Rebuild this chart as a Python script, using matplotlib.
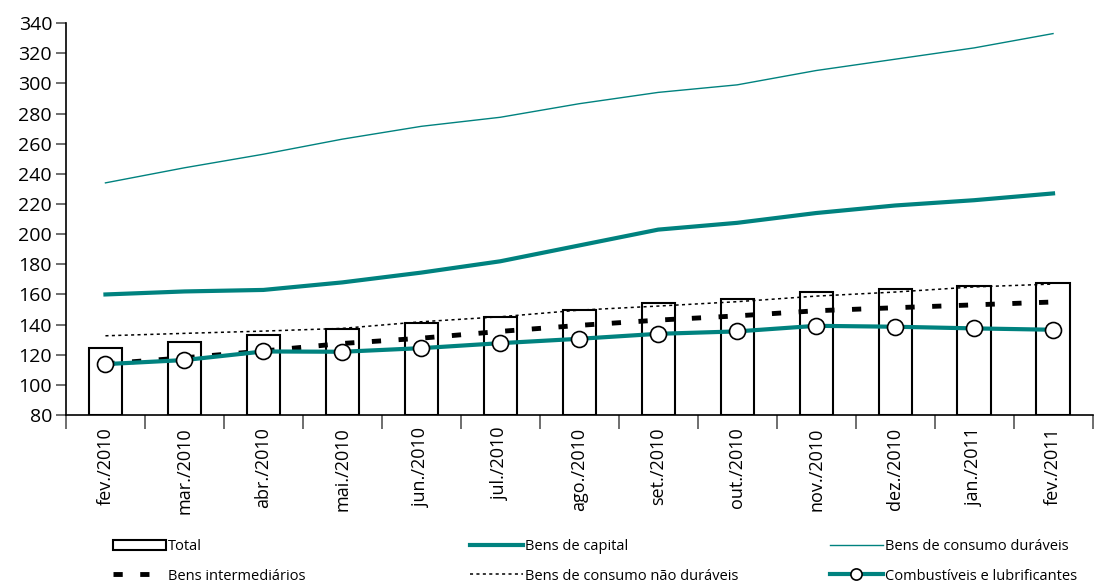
import matplotlib
matplotlib.use("Agg")
import matplotlib.pyplot as plt
import numpy as np

plt.rcParams["font.family"] = ["Open Sans", "DejaVu Sans"]

meses = ["fev./2010", "mar./2010", "abr./2010", "mai./2010", "jun./2010", "jul./2010",
         "ago./2010", "set./2010", "out./2010", "nov./2010", "dez./2010", "jan./2011",
         "fev./2011"]
total = [124.4, 128.7, 133.0, 136.8, 140.8, 145.2, 150.0, 154.5, 157.0, 161.4, 163.6, 165.5, 167.3]
capital = [160.0, 162.0, 163.0, 168.0, 174.5, 182.0, 192.5, 203.0, 207.5, 214.0, 219.0, 222.5, 227.0]
duraveis = [234.0, 244.0, 253.0, 263.0, 271.5, 277.5, 286.5, 294.0, 299.0, 308.5, 316.0, 323.5, 333.0]
intermediarios = [114.0, 118.0, 122.5, 127.5, 131.0, 135.5, 139.5, 143.0, 145.8, 149.2, 151.2, 153.1, 155.0]
nao_duraveis = [132.6, 134.2, 135.7, 137.5, 141.9, 145.2, 149.6, 152.3, 155.2, 158.9, 161.6, 165.0, 166.9]
combustiveis = [113.8, 116.5, 122.2, 122.0, 124.4, 127.7, 130.6, 133.9, 135.5, 139.2, 138.6, 137.5, 136.6]

teal = "#00827f"
x = np.arange(len(meses))

fig = plt.figure(figsize=(11.05, 5.83), dpi=100)
ax = fig.add_axes([0.0597, 0.288, 0.929, 0.6725])

bars = ax.bar(x, [t - 80 for t in total], bottom=80, width=0.42, facecolor="white",
              edgecolor="black", linewidth=1.5, zorder=1, label="Total")
l_cap, = ax.plot(x, capital, color=teal, lw=3.0, zorder=3, label="Bens de capital")
l_dur, = ax.plot(x, duraveis, color=teal, lw=1.0, zorder=3, label="Bens de consumo duráveis")
l_int, = ax.plot(x, intermediarios, color="black", lw=3.5, dashes=(1.9, 3.6), zorder=3,
                 label="Bens intermediários")
l_nd, = ax.plot(x, nao_duraveis, color="black", lw=1.1, dashes=(2, 2.2), zorder=3,
                label="Bens de consumo não duráveis")
l_comb, = ax.plot(x, combustiveis, color=teal, lw=3.0, marker="o", markersize=11.5,
                  markerfacecolor="white", markeredgecolor="black", markeredgewidth=1.2,
                  zorder=4, label="Combustíveis e lubrificantes")

ax.set_xlim(-0.5, len(meses) - 0.5)
ax.set_ylim(80, 340)
ax.set_yticks(np.arange(80, 341, 20))
ax.tick_params(axis="y", labelsize=14, length=7, width=1.2, color="#555555", pad=3)

ax.set_xticks(x)
ax.set_xticklabels(meses, rotation=90, fontsize=13)
ax.tick_params(axis="x", length=0, pad=9)
ax.set_xticks(np.arange(-0.5, len(meses)), minor=True)
ax.tick_params(axis="x", which="minor", length=10, width=1.2, color="#555555")

for s in ["top", "right"]:
    ax.spines[s].set_visible(False)
ax.spines["left"].set_linewidth(1.2)
ax.spines["bottom"].set_linewidth(1.2)

leg_kw = dict(frameon=False, fontsize=10.5, handlelength=3.6, handletextpad=0.15,
              labelspacing=1.0, loc="upper left", borderaxespad=0, borderpad=0,
              markerscale=0.7)
fig.legend([bars, l_int], ["Total", "Bens intermediários"],
           bbox_to_anchor=(113 / 1105, 1 - 539 / 583), **leg_kw)
fig.legend([l_cap, l_nd], ["Bens de capital", "Bens de consumo não duráveis"],
           bbox_to_anchor=(470 / 1105, 1 - 539 / 583), **leg_kw)
fig.legend([l_dur, l_comb], ["Bens de consumo duráveis", "Combustíveis e lubrificantes"],
           bbox_to_anchor=(830 / 1105, 1 - 539 / 583), **leg_kw)

fig.savefig("out.png", dpi=100)
